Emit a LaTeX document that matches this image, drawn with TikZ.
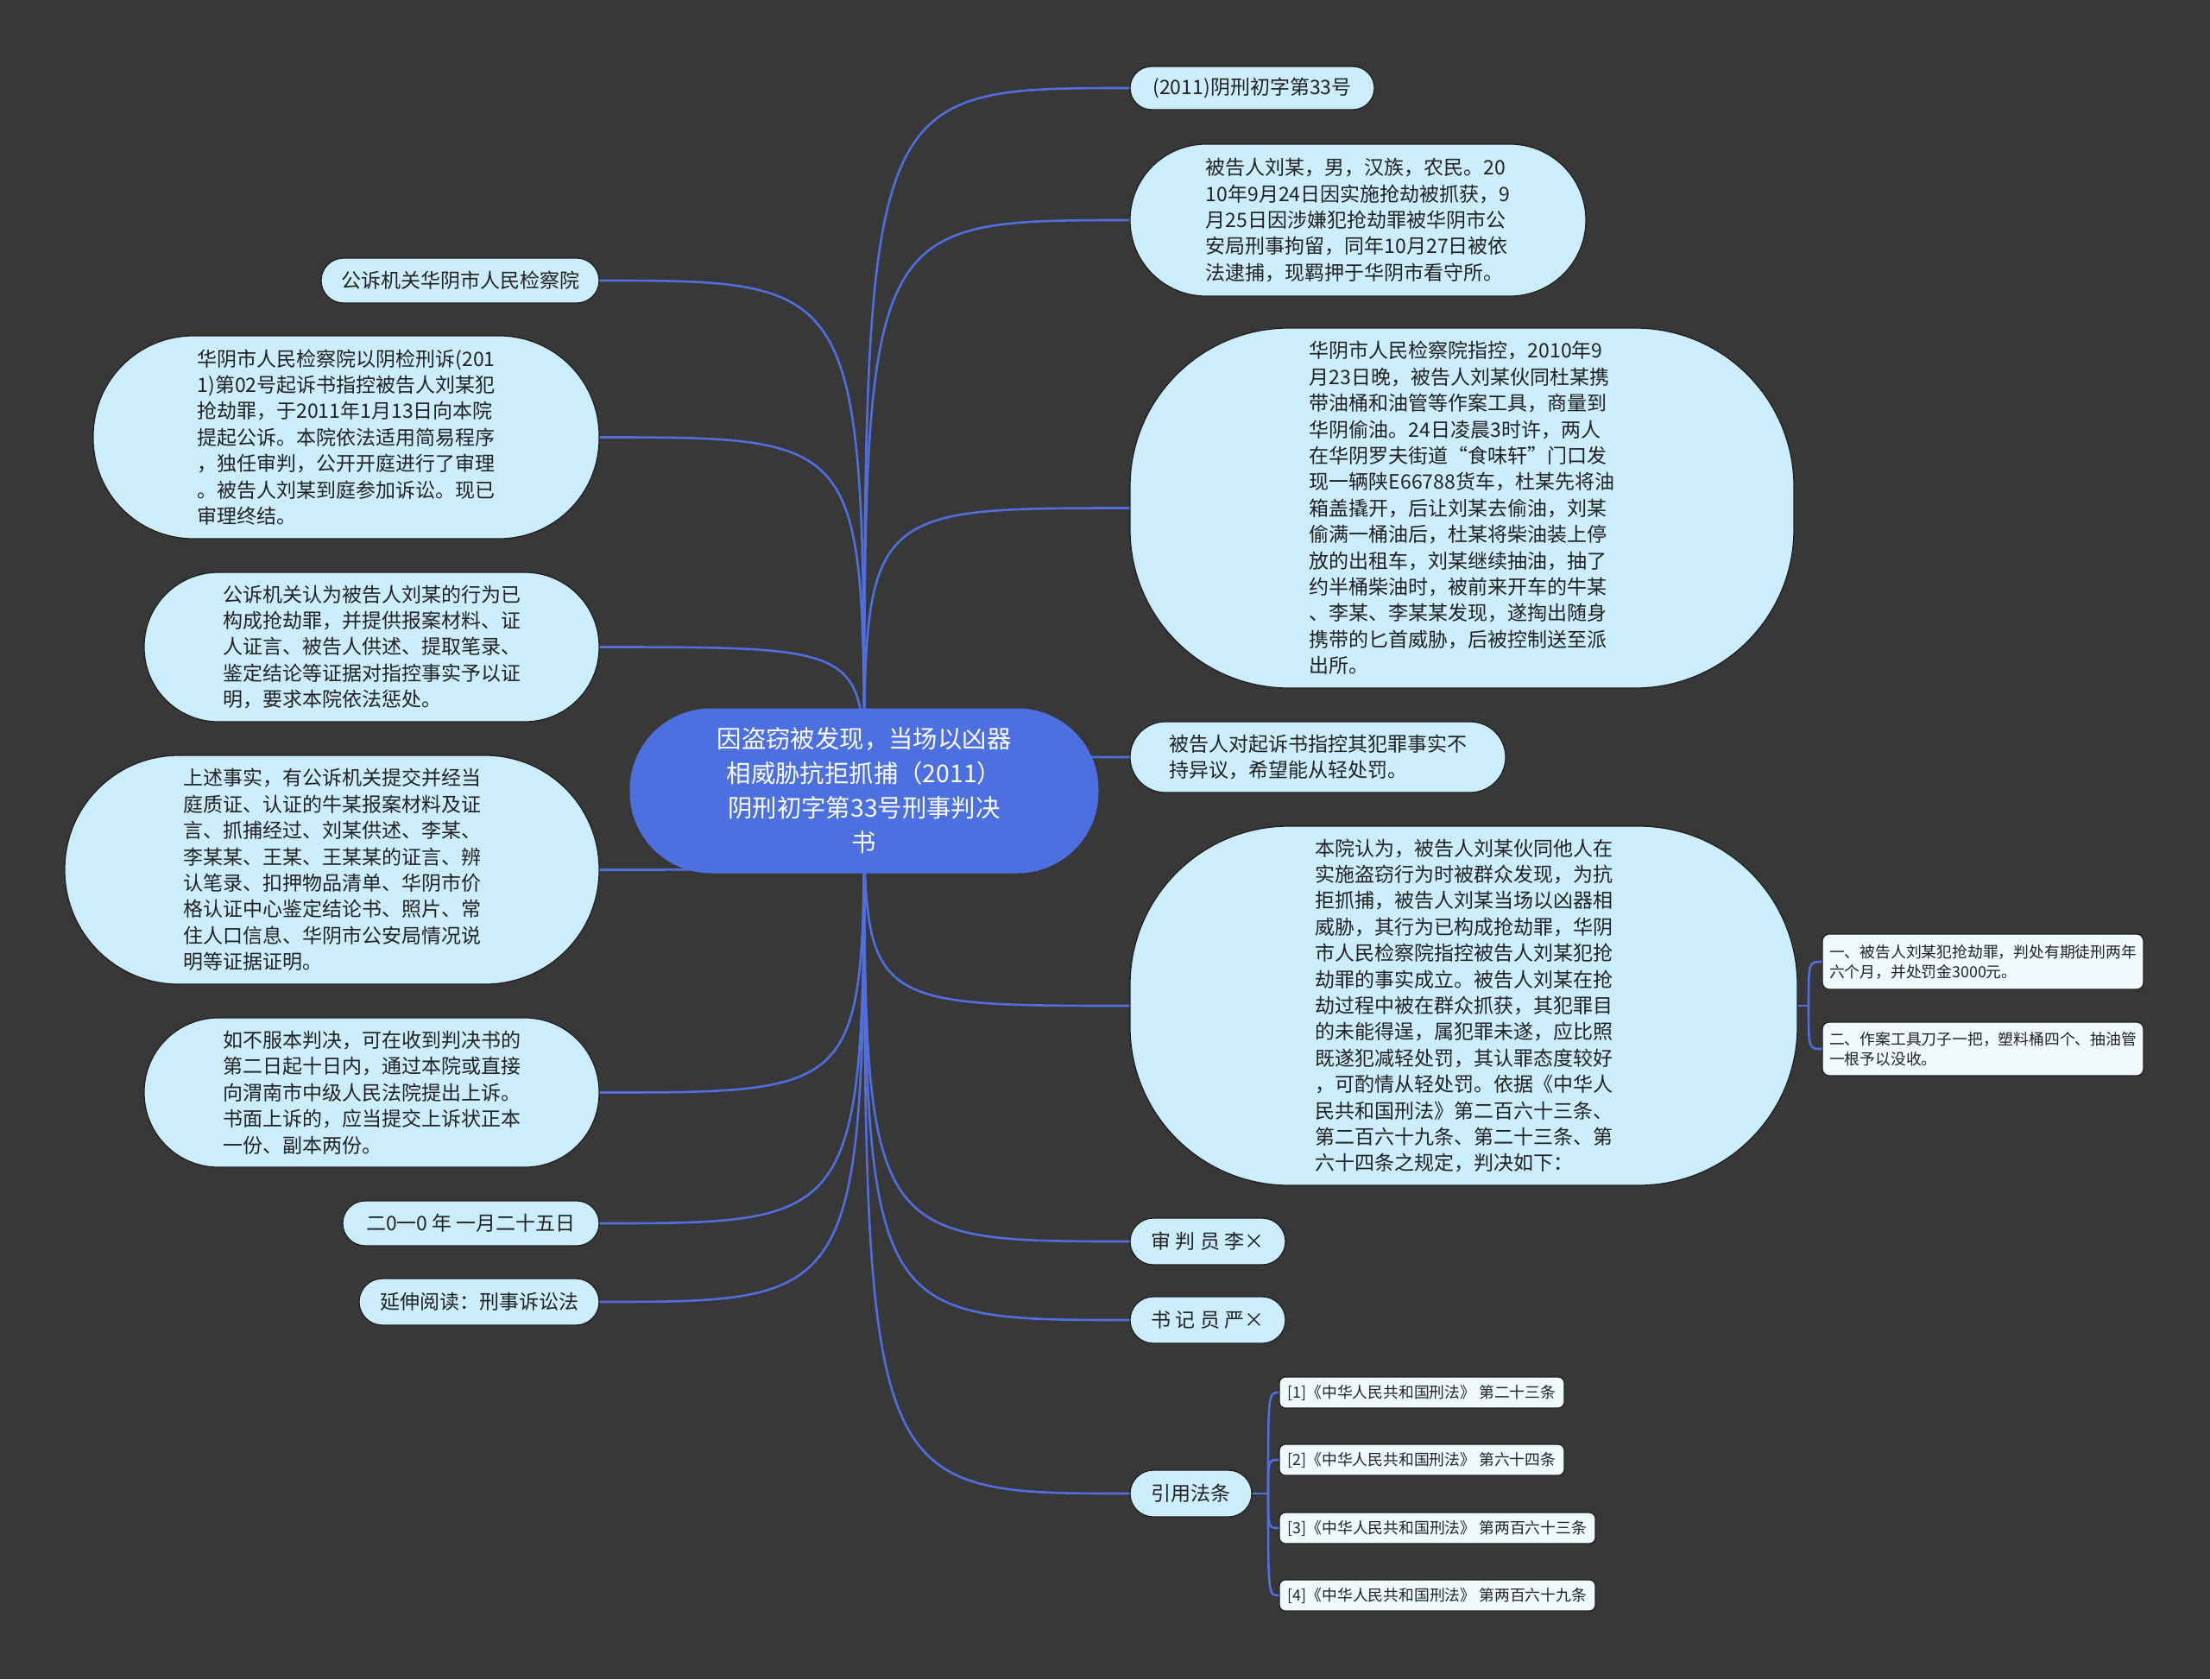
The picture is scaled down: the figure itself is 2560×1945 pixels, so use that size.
\documentclass[tikz,border=0pt]{standalone}
\usepackage{fontspec}
\setmainfont{Noto Sans CJK SC}
\usepackage{tikz}
\definecolor{canvas}{RGB}{57,56,57}
\definecolor{bubblebg}{RGB}{204,237,252}
\definecolor{subbg}{RGB}{239,250,253}
\definecolor{edgeline}{RGB}{30,30,30}
\definecolor{hubbg}{RGB}{77,112,224}
\definecolor{linkline}{RGB}{80,110,222}
\definecolor{ink}{RGB}{34,34,34}
\tikzset{
  bubble/.style={
    draw=edgeline,
    line width=0.6pt,
    fill=bubblebg,
    text=ink,
    align=left,
    inner sep=0pt,
    font=\fontsize{11.5}{15.2}\selectfont
  },
  subbox/.style={
    draw=edgeline,
    line width=0.6pt,
    fill=subbg,
    text=ink,
    align=left,
    inner sep=0pt,
    rounded corners=4pt,
    font=\fontsize{8.9}{11.5}\selectfont
  },
  hub/.style={
    fill=hubbg,
    text=white,
    align=center,
    inner sep=0pt,
    font=\fontsize{14.2}{20}\selectfont
  },
  link/.style={draw=linkline, line width=1.3pt}
}

\begin{document}
\begin{tikzpicture}[x=0.5pt,y=-0.5pt]
  \fill[canvas] (0,0) rectangle (2560,1945);
  \coordinate (hubc) at (1001,916);

  % right branch
  \node[bubble, minimum width=141.5pt, minimum height=25pt, rounded corners=12.5pt] (r1) at (1450.5,102) {(2011)阴刑初字第33号};
  \node[bubble, minimum width=264pt, minimum height=88pt, rounded corners=44pt] (r2) at (1573,255) {被告人刘某，男，汉族，农民。20\\10年9月24日因实施抢劫被抓获，9\\月25日因涉嫌犯抢劫罪被华阴市公\\安局刑事拘留，同年10月27日被依\\法逮捕，现羁押于华阴市看守所。};
  \node[bubble, minimum width=384.5pt, minimum height=208.5pt, rounded corners=92pt] (r3) at (1693.5,588.5) {华阴市人民检察院指控，2010年9\\月23日晚，被告人刘某伙同杜某携\\带油桶和油管等作案工具，商量到\\华阴偷油。24日凌晨3时许，两人\\在华阴罗夫街道“食味轩”门口发\\现一辆陕E66788货车，杜某先将油\\箱盖撬开，后让刘某去偷油，刘某\\偷满一桶油后，杜某将柴油装上停\\放的出租车，刘某继续抽油，抽了\\约半桶柴油时，被前来开车的牛某\\、李某、李某某发现，遂掏出随身\\携带的匕首威胁，后被控制送至派\\出所。};
  \node[bubble, minimum width=217.5pt, minimum height=41pt, rounded corners=20.5pt] (r4) at (1526.5,877) {被告人对起诉书指控其犯罪事实不\\持异议，希望能从轻处罚。};
  \node[bubble, minimum width=386.5pt, minimum height=208pt, rounded corners=92pt] (r5) at (1695.5,1165) {本院认为，被告人刘某伙同他人在\\实施盗窃行为时被群众发现，为抗\\拒抓捕，被告人刘某当场以凶器相\\威胁，其行为已构成抢劫罪，华阴\\市人民检察院指控被告人刘某犯抢\\劫罪的事实成立。被告人刘某在抢\\劫过程中被在群众抓获，其犯罪目\\的未能得逞，属犯罪未遂，应比照\\既遂犯减轻处罚，其认罪态度较好\\，可酌情从轻处罚。依据《中华人\\民共和国刑法》第二百六十三条、\\第二百六十九条、第二十三条、第\\六十四条之规定，判决如下：};
  \node[bubble, minimum width=90pt, minimum height=27pt, rounded corners=13.5pt] (r6) at (1399,1438) {审 判 员 李×};
  \node[bubble, minimum width=90pt, minimum height=27pt, rounded corners=13.5pt] (r7) at (1399,1529) {书 记 员 严×};
  \node[bubble, minimum width=70.5pt, minimum height=27pt, rounded corners=13.5pt] (r8) at (1379.5,1730) {引用法条};

  % verdict items
  \node[subbox, minimum width=186pt, minimum height=32pt] (s1) at (2297,1114) {一、被告人刘某犯抢劫罪，判处有期徒刑两年\\六个月，并处罚金3000元。};
  \node[subbox, minimum width=186pt, minimum height=31pt] (s2) at (2297,1215) {二、作案工具刀子一把，塑料桶四个、抽油管\\一根予以没收。};

  % cited articles
  \node[subbox, rounded corners=3.5pt, minimum width=165pt, minimum height=18pt] (l1) at (1647,1613) {[1]《中华人民共和国刑法》 第二十三条};
  \node[subbox, rounded corners=3.5pt, minimum width=165pt, minimum height=18pt] (l2) at (1647,1691) {[2]《中华人民共和国刑法》 第六十四条};
  \node[subbox, rounded corners=3.5pt, minimum width=183pt, minimum height=18pt] (l3) at (1665,1770) {[3]《中华人民共和国刑法》 第两百六十三条};
  \node[subbox, rounded corners=3.5pt, minimum width=183pt, minimum height=18pt] (l4) at (1665,1848) {[4]《中华人民共和国刑法》 第两百六十九条};

  % left branch
  \node[bubble, minimum width=161pt, minimum height=26pt, rounded corners=13pt] (e1) at (533,325) {公诉机关华阴市人民检察院};
  \node[bubble, minimum width=293pt, minimum height=117.5pt, rounded corners=58pt] (e2) at (401,506.5) {华阴市人民检察院以阴检刑诉(201\\1)第02号起诉书指控被告人刘某犯\\抢劫罪，于2011年1月13日向本院\\提起公诉。本院依法适用简易程序\\，独任审判，公开开庭进行了审理\\。被告人刘某到庭参加诉讼。现已\\审理终结。};
  \node[bubble, minimum width=263.5pt, minimum height=86.5pt, rounded corners=43pt] (e3) at (430.5,749.5) {公诉机关认为被告人刘某的行为已\\构成抢劫罪，并提供报案材料、证\\人证言、被告人供述、提取笔录、\\鉴定结论等证据对指控事实予以证\\明，要求本院依法惩处。};
  \node[bubble, minimum width=309.5pt, minimum height=132.5pt, rounded corners=66pt] (e4) at (384.5,1007.5) {上述事实，有公诉机关提交并经当\\庭质证、认证的牛某报案材料及证\\言、抓捕经过、刘某供述、李某、\\李某某、王某、王某某的证言、辨\\认笔录、扣押物品清单、华阴市价\\格认证中心鉴定结论书、照片、常\\住人口信息、华阴市公安局情况说\\明等证据证明。};
  \node[bubble, minimum width=263.5pt, minimum height=86.5pt, rounded corners=43pt] (e5) at (430.5,1265.5) {如不服本判决，可在收到判决书的\\第二日起十日内，通过本院或直接\\向渭南市中级人民法院提出上诉。\\书面上诉的，应当提交上诉状正本\\一份、副本两份。};
  \node[bubble, minimum width=148.5pt, minimum height=26pt, rounded corners=13pt] (e6) at (545.5,1417) {二0一0 年 一月二十五日};
  \node[bubble, minimum width=139pt, minimum height=27pt, rounded corners=13.5pt] (e7) at (555,1508) {延伸阅读：刑事诉讼法};

  % links from the centre
  \draw[link] (hubc) .. controls (hubc |- r1.west) .. (r1.west);
  \draw[link] (hubc) .. controls (hubc |- r2.west) .. (r2.west);
  \draw[link] (hubc) .. controls (hubc |- r3.west) .. (r3.west);
  \draw[link] (hubc) .. controls (hubc |- r4.west) .. (r4.west);
  \draw[link] (hubc) .. controls (hubc |- r5.west) .. (r5.west);
  \draw[link] (hubc) .. controls (hubc |- r6.west) .. (r6.west);
  \draw[link] (hubc) .. controls (hubc |- r7.west) .. (r7.west);
  \draw[link] (hubc) .. controls (hubc |- r8.west) .. (r8.west);
  \draw[link] (hubc) .. controls (hubc |- e1.east) .. (e1.east);
  \draw[link] (hubc) .. controls (hubc |- e2.east) .. (e2.east);
  \draw[link] (hubc) .. controls (hubc |- e3.east) .. (e3.east);
  \draw[link] (hubc) .. controls (hubc |- e4.east) .. (e4.east);
  \draw[link] (hubc) .. controls (hubc |- e5.east) .. (e5.east);
  \draw[link] (hubc) .. controls (hubc |- e6.east) .. (e6.east);
  \draw[link] (hubc) .. controls (hubc |- e7.east) .. (e7.east);

  % verdict and article links
  \coordinate (r5j) at (2095,1165);
  \draw[link] (r5.east) -- (r5j);
  \draw[link] (r5j) .. controls (r5j |- s1.west) .. (s1.west);
  \draw[link] (r5j) .. controls (r5j |- s2.west) .. (s2.west);
  \coordinate (r8j) at (1469,1730);
  \draw[link] (r8.east) -- (r8j);
  \draw[link] (r8j) .. controls (r8j |- l1.west) .. (l1.west);
  \draw[link] (r8j) .. controls (r8j |- l2.west) .. (l2.west);
  \draw[link] (r8j) .. controls (r8j |- l3.west) .. (l3.west);
  \draw[link] (r8j) .. controls (r8j |- l4.west) .. (l4.west);

  \node[hub, minimum width=271.5pt, minimum height=95.5pt, rounded corners=47pt] (hub) at (hubc) {因盗窃被发现，当场以凶器\\相威胁抗拒抓捕（2011）\\阴刑初字第33号刑事判决\\书};
\end{tikzpicture}
\end{document}
